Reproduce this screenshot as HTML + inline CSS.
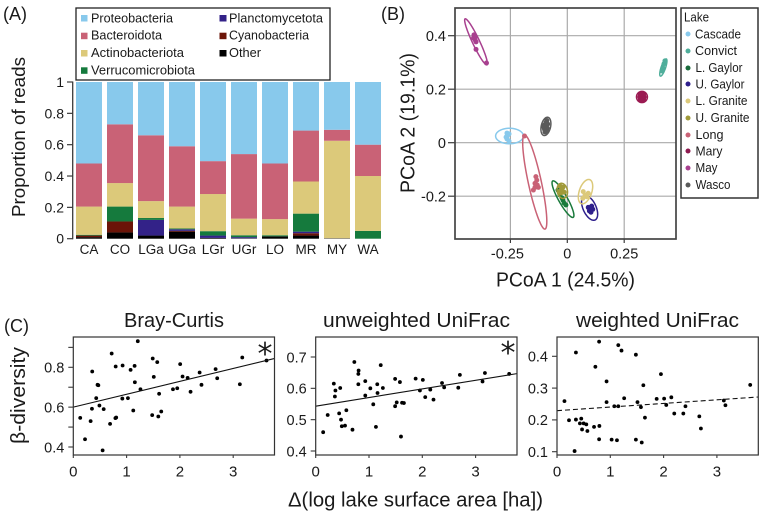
<!DOCTYPE html>
<html lang="en">
<head>
<meta charset="utf-8">
<title>Lake microbial community composition</title>
<style>
html,body{margin:0;padding:0;background:#fff;}
svg{display:block;font-family:"Liberation Sans",sans-serif;fill:#1a1a1a;}
</style>
</head>
<body>
<svg id="fig" width="761" height="515" viewBox="0 0 761 515" xmlns="http://www.w3.org/2000/svg">
  <text x="3" y="20" font-size="18">(A)</text>
  <text x="381" y="20" font-size="18">(B)</text>
  <text x="4" y="332" font-size="18">(C)</text>

  <text transform="translate(25,137) rotate(-90)" text-anchor="middle" font-size="18" textLength="160" lengthAdjust="spacingAndGlyphs">Proportion of reads</text>
  <g id="panelA"></g>

  <g>
    <rect x="76" y="8" width="254" height="72" fill="#fff" stroke="#222" stroke-width="1.3"/>
    <rect x="81" y="15" width="6.5" height="6.5" fill="#88c9ec"/>
    <text x="91" y="22.3" font-size="12.5" textLength="82" lengthAdjust="spacingAndGlyphs">Proteobacteria</text>
    <rect x="81" y="32.7" width="6.5" height="6.5" fill="#c96276"/>
    <text x="91" y="39.5" font-size="12.5" textLength="71" lengthAdjust="spacingAndGlyphs">Bacteroidota</text>
    <rect x="81" y="50" width="6.5" height="6.5" fill="#dcc97a"/>
    <text x="91" y="56.8" font-size="12.5" textLength="93" lengthAdjust="spacingAndGlyphs">Actinobacteriota</text>
    <rect x="81" y="67.3" width="6.5" height="6.5" fill="#157a3d"/>
    <text x="91" y="74.3" font-size="12.5" textLength="104" lengthAdjust="spacingAndGlyphs">Verrucomicrobiota</text>
    <rect x="219.5" y="15" width="7" height="6.5" fill="#332288"/>
    <text x="229" y="22.3" font-size="12.5" textLength="94" lengthAdjust="spacingAndGlyphs">Planctomycetota</text>
    <rect x="219.5" y="32.7" width="7" height="6.5" fill="#6b1408"/>
    <text x="229" y="39.5" font-size="12.5" textLength="80" lengthAdjust="spacingAndGlyphs">Cyanobacteria</text>
    <rect x="219.5" y="50" width="7" height="6.5" fill="#000"/>
    <text x="229" y="56.8" font-size="12.5" textLength="32" lengthAdjust="spacingAndGlyphs">Other</text>
  </g>

  <g id="panelB"></g>
  <text x="565.5" y="286.7" text-anchor="middle" font-size="20" textLength="139" lengthAdjust="spacingAndGlyphs">PCoA 1 (24.5%)</text>
  <text transform="translate(414.3,123) rotate(-90)" text-anchor="middle" font-size="20" textLength="140" lengthAdjust="spacingAndGlyphs">PCoA 2 (19.1%)</text>

  <g>
    <rect x="681" y="8" width="77" height="190" fill="#fff" stroke="#333" stroke-width="1.5"/>
    <text x="684" y="21.7" font-size="12.5" textLength="25" lengthAdjust="spacingAndGlyphs">Lake</text>
    <circle cx="688" cy="34" r="2.5" fill="#88c9ec"/>
    <text x="695" y="38.3" font-size="12.5" textLength="46" lengthAdjust="spacingAndGlyphs">Cascade</text>
    <circle cx="688" cy="51" r="2.5" fill="#4fae9b"/>
    <text x="695" y="55" font-size="12.5" textLength="42" lengthAdjust="spacingAndGlyphs">Convict</text>
    <circle cx="688" cy="68" r="2.5" fill="#1a6b3c"/>
    <text x="695.5" y="72" font-size="12.5" textLength="47" lengthAdjust="spacingAndGlyphs">L. Gaylor</text>
    <circle cx="688" cy="84" r="2.5" fill="#2e1f8c"/>
    <text x="695.5" y="88.5" font-size="12.5" textLength="49" lengthAdjust="spacingAndGlyphs">U. Gaylor</text>
    <circle cx="688" cy="101" r="2.5" fill="#dcc97a"/>
    <text x="695.5" y="105" font-size="12.5" textLength="52" lengthAdjust="spacingAndGlyphs">L. Granite</text>
    <circle cx="688" cy="118" r="2.5" fill="#a09a3a"/>
    <text x="695.5" y="122" font-size="12.5" textLength="54" lengthAdjust="spacingAndGlyphs">U. Granite</text>
    <circle cx="688" cy="135" r="2.5" fill="#c96276"/>
    <text x="695.5" y="139" font-size="12.5" textLength="28" lengthAdjust="spacingAndGlyphs">Long</text>
    <circle cx="688" cy="151" r="2.5" fill="#8e1a50"/>
    <text x="695.5" y="155.5" font-size="12.5" textLength="27" lengthAdjust="spacingAndGlyphs">Mary</text>
    <circle cx="688" cy="168" r="2.5" fill="#a8408f"/>
    <text x="695.5" y="172" font-size="12.5" textLength="22" lengthAdjust="spacingAndGlyphs">May</text>
    <circle cx="688" cy="185" r="2.5" fill="#5a5a5a"/>
    <text x="695.5" y="189" font-size="12.5" textLength="35" lengthAdjust="spacingAndGlyphs">Wasco</text>
  </g>

  <text x="174" y="327" text-anchor="middle" font-size="20" textLength="100" lengthAdjust="spacingAndGlyphs">Bray-Curtis</text>
  <text x="416.5" y="327" text-anchor="middle" font-size="20" textLength="187" lengthAdjust="spacingAndGlyphs">unweighted UniFrac</text>
  <text x="657.5" y="327" text-anchor="middle" font-size="20" textLength="163" lengthAdjust="spacingAndGlyphs">weighted UniFrac</text>
  <text transform="translate(25,395.5) rotate(-90)" text-anchor="middle" font-size="20" textLength="97" lengthAdjust="spacingAndGlyphs">β-diversity</text>
  <text x="415.5" y="506.5" text-anchor="middle" font-size="20" textLength="255" lengthAdjust="spacingAndGlyphs">Δ(log lake surface area [ha])</text>

  <g id="panelC1"></g>
  <g id="panelC2"></g>
  <g id="panelC3"></g>
  <text x="265" y="364" text-anchor="middle" font-size="30" style="font-family:'DejaVu Sans',sans-serif">*</text>
  <text x="508" y="363" text-anchor="middle" font-size="30" style="font-family:'DejaVu Sans',sans-serif">*</text>
</svg>

<script>
/* ---------- Panel A data ---------- */
const barCategories = ['CA','CO','LGa','UGa','LGr','UGr','LO','MR','MY','WA'];
const otherShare = [0.01,0.04,0.02,0.045,0.005,0.003,0.015,0.02,0.003,0];
const cyanobacteriaShare = [0.01,0.07,0,0.005,0,0,0,0.015,0,0];
const planctomycetotaShare = [0,0,0.10,0.01,0.015,0.007,0,0.01,0,0];
const verrucomicrobiotaShare = [0.005,0.095,0.012,0.005,0.028,0.012,0.007,0.115,0,0.05];
const actinobacteriotaShare = [0.18,0.15,0.108,0.14,0.237,0.106,0.103,0.205,0.622,0.35];
const bacteroidotaShare = [0.275,0.375,0.42,0.385,0.21,0.412,0.355,0.325,0.07,0.20];
const proteobacteriaShare = [0.52,0.27,0.34,0.41,0.505,0.46,0.52,0.31,0.305,0.40];
const barTicks = [0,0.2,0.4,0.6,0.8,1];
const barTickLabels = ['0','0.2','0.4','0.6','0.8','1'];

/* ---------- Panel B data (PCoA axis units) ---------- */
const pcoaXTicks = [-0.25,0,0.25];
const pcoaXTickLabels = ['-0.25','0','0.25'];
const pcoaYTicks = [-0.2,0,0.2,0.4];
const pcoaYTickLabels = ['-0.2','0','0.2','0.4'];
const lakeNames = ['Cascade','Convict','L. Gaylor','U. Gaylor','L. Granite','U. Granite','Long','Mary','May','Wasco'];
const lakePointsX = [
  [-0.265,-0.265,-0.265,-0.261,-0.269,-0.256,-0.256],
  [0.416,0.420,0.425,0.429],
  [-0.041,-0.032,-0.019,-0.014,-0.006,-0.023],
  [0.092,0.107,0.112,0.097,0.104,0.100],
  [0.078,0.068,0.085,0.092,0.070],
  [-0.032,-0.023,-0.014,-0.028,-0.019,-0.032],
  [-0.188,-0.138,-0.134,-0.142,-0.132,-0.142,-0.149,-0.127],
  [0.318,0.338,0.328,0.321,0.335,0.328,0.321,0.335,0.328],
  [-0.405,-0.405,-0.41,-0.401,-0.401,-0.355,-0.412],
  [-0.090,-0.086,-0.094,-0.088,-0.102,-0.100,-0.098,-0.094,-0.091,-0.103]
];
const lakePointsY = [
  [0.036,0.025,0.014,0.029,0.021,0.033,0.006],
  [0.268,0.280,0.295,0.306],
  [-0.177,-0.196,-0.215,-0.226,-0.233,-0.207],
  [-0.242,-0.237,-0.249,-0.255,-0.260,-0.244],
  [-0.196,-0.208,-0.202,-0.189,-0.183],
  [-0.162,-0.173,-0.185,-0.188,-0.166,-0.181],
  [0.025,-0.127,-0.140,-0.152,-0.158,-0.167,-0.177,-0.167],
  [0.171,0.171,0.171,0.180,0.180,0.183,0.162,0.162,0.159],
  [0.395,0.384,0.403,0.377,0.349,0.298,0.392],
  [0.083,0.070,0.061,0.055,0.065,0.050,0.040,0.075,0.045,0.058]
];
const ellipseCenterX = [-0.254,0.422,-0.019,0.098,0.080,-0.022,-0.143,0.328,-0.401,-0.094];
const ellipseCenterY = [0.025,0.281,-0.211,-0.244,-0.183,-0.180,-0.147,0.171,0.377,0.061];
const ellipseMajorX = [0.061,0.013,0.045,0.024,0.018,-0.007,0.045,0.024,0.048,0.009];
const ellipseMajorY = [0,0.032,-0.068,-0.045,0.045,0.028,-0.176,0,-0.086,0.034];
const ellipseMinorX = [0,0.009,0.017,0.026,0.026,0.022,0.028,0,0.014,0.02];
const ellipseMinorY = [0.029,-0.003,0.008,0.010,-0.007,0.004,0.005,0.021,0.006,-0.004];

/* ---------- Panel C data ---------- */
const brayX = [0.13,0.22,0.325,0.355,0.35,0.43,0.455,0.47,0.49,0.55,0.57,0.69,0.72,0.79,0.805,0.795,0.925,0.92,1.025,1.075,1.125,1.15,1.155,1.21,1.26,1.48,1.49,1.51,1.575,1.595,1.61,1.65,1.87,1.95,2.005,2.05,2.145,2.2,2.37,2.405,2.67,2.7,3.125,3.17,3.625];
const brayY = [0.546,0.439,0.530,0.779,0.592,0.645,0.712,0.710,0.608,0.383,0.590,0.516,0.869,0.545,0.548,0.804,0.809,0.643,0.645,0.787,0.583,0.807,0.725,0.931,0.690,0.560,0.844,0.752,0.826,0.553,0.667,0.578,0.690,0.695,0.816,0.754,0.747,0.677,0.774,0.712,0.791,0.745,0.715,0.849,0.834];
const brayFitX = [0,3.77];
const brayFitY = [0.60,0.844];
const brayTicks = [0.4,0.5,0.6,0.7,0.8,0.9];
const brayTickLabels = ['0.4','','0.6','','0.8',''];

const unweightedX = [0.14,0.225,0.34,0.37,0.36,0.44,0.46,0.475,0.49,0.55,0.575,0.69,0.725,0.80,0.80,0.805,0.93,0.93,1.025,1.08,1.13,1.155,1.16,1.22,1.26,1.49,1.49,1.52,1.58,1.60,1.62,1.655,1.875,1.955,2.01,2.055,2.15,2.21,2.37,2.41,2.675,2.705,3.13,3.175,3.63];
const unweightedY = [0.460,0.515,0.615,0.593,0.574,0.520,0.601,0.500,0.479,0.481,0.530,0.468,0.684,0.646,0.613,0.657,0.623,0.577,0.600,0.549,0.477,0.613,0.585,0.674,0.601,0.543,0.630,0.555,0.620,0.446,0.554,0.553,0.631,0.593,0.627,0.572,0.596,0.564,0.617,0.603,0.602,0.643,0.622,0.649,0.646];
const unweightedFitX = [0,3.775];
const unweightedFitY = [0.543,0.647];
const unweightedTicks = [0.4,0.5,0.6,0.7];
const unweightedTickLabels = ['0.4','0.5','0.6','0.7'];

const weightedX = [0.14,0.225,0.33,0.355,0.355,0.43,0.455,0.47,0.50,0.55,0.57,0.695,0.72,0.79,0.795,0.79,0.93,0.93,1.025,1.075,1.125,1.15,1.15,1.21,1.26,1.48,1.48,1.51,1.575,1.59,1.62,1.65,1.87,1.95,2.01,2.05,2.145,2.20,2.37,2.41,2.67,2.70,3.13,3.16,3.625];
const weightedY = [0.259,0.199,0.102,0.412,0.201,0.189,0.204,0.170,0.189,0.186,0.165,0.178,0.367,0.446,0.181,0.139,0.321,0.256,0.138,0.243,0.136,0.243,0.435,0.418,0.268,0.405,0.138,0.256,0.240,0.129,0.309,0.207,0.266,0.344,0.267,0.247,0.271,0.220,0.220,0.243,0.211,0.173,0.261,0.246,0.310];
const weightedFitX = [0,3.775];
const weightedFitY = [0.229,0.272];
const weightedTicks = [0.1,0.2,0.3,0.4];
const weightedTickLabels = ['0.1','0.2','0.3','0.4'];

const distanceTicks = [0,1,2,3];
const distanceTickLabels = ['0','1','2','3'];

/* ---------- helpers ---------- */
const NS = 'http://www.w3.org/2000/svg';
function svgEl(tag, attrs, parent, text) {
  const el = document.createElementNS(NS, tag);
  for (const k in attrs) el.setAttribute(k, attrs[k]);
  if (text !== undefined) el.textContent = text;
  parent.appendChild(el);
  return el;
}
function linear(d0, d1, r0, r1) {
  return v => r0 + (v - d0) * (r1 - r0) / (d1 - d0);
}
const AXIS = '#3a3a3a';

/* ---------- Panel A ---------- */
(function () {
  const g = document.getElementById('panelA');
  const y = linear(0, 1, 238.7, 82);
  const barX = i => 76 + i * 31;
  const stack = [
    [otherShare, '#000000'],
    [cyanobacteriaShare, '#6b1408'],
    [planctomycetotaShare, '#332288'],
    [verrucomicrobiotaShare, '#157a3d'],
    [actinobacteriotaShare, '#dcc97a'],
    [bacteroidotaShare, '#c96276'],
    [proteobacteriaShare, '#88c9ec']
  ];
  barCategories.forEach((cat, i) => {
    let base = 0;
    stack.forEach(([series, color]) => {
      const top = base + series[i];
      const bar = svgEl('rect', {x: barX(i), y: y(top), width: 26, height: Math.max(0, y(base) - y(top)), fill: color}, g);
      
      
      base = top;
    });
    const label = svgEl('text', {x: barX(i) + 13, y: 254, 'text-anchor': 'middle', 'font-size': 13.5}, g, cat);
    
    
  });
  const axis = svgEl('line', {x1: 72.7, x2: 72.7, y1: y(1) - 0.5, y2: y(0) + 0.5, stroke: AXIS, 'stroke-width': 1.3}, g);
  
  
  barTicks.forEach((t, i) => {
    const tick = svgEl('line', {x1: 67, x2: 73, y1: y(t), y2: y(t), stroke: AXIS, 'stroke-width': 1.2}, g);
    
    
    const label = svgEl('text', {x: 64, y: y(t) + 5, 'text-anchor': 'end', 'font-size': 14}, g, barTickLabels[i]);
    
    
  });
})();

/* ---------- Panel B ---------- */
(function () {
  const g = document.getElementById('panelB');
  const x = linear(0, 0.25, 567.3, 624.2);
  const y = linear(0, 0.2, 142.7, 89.2);
  const colors = ['#88c9ec','#4fae9b','#1a7a3c','#2e1f8c','#dcc97a','#a09a3a','#c96276','#9b1b52','#a8408f','#5a5a5a'];
  const L = 455, R = 676, T = 8, B = 239;
  const bg = svgEl('rect', {x: L, y: T, width: R - L, height: B - T, fill: '#fff'}, g);
  
  
  pcoaXTicks.forEach((t, i) => {
    const grid = svgEl('line', {x1: x(t), x2: x(t), y1: T, y2: B, stroke: '#aaaaaa', 'stroke-width': 1.2}, g);
    
    
    const tick = svgEl('line', {x1: x(t), x2: x(t), y1: B, y2: B + 4, stroke: AXIS, 'stroke-width': 1.2}, g);
    
    
    const label = svgEl('text', {x: x(t) - (t < 0 ? 3 : 0), y: 258.3, 'text-anchor': 'middle', 'font-size': 14.5}, g, pcoaXTickLabels[i]);
    
    
  });
  pcoaYTicks.forEach((t, i) => {
    const grid = svgEl('line', {x1: L, x2: R, y1: y(t), y2: y(t), stroke: '#aaaaaa', 'stroke-width': 1.2}, g);
    
    
    const tick = svgEl('line', {x1: L - 7, x2: L, y1: y(t), y2: y(t), stroke: AXIS, 'stroke-width': 1.2}, g);
    
    
    const label = svgEl('text', {x: 446, y: y(t) + 5.5, 'text-anchor': 'end', 'font-size': 14.5}, g, pcoaYTickLabels[i]);
    
    
  });
  lakeNames.forEach((lake, i) => {
    let d = '';
    for (let k = 0; k <= 72; k++) {
      const a = k / 72 * 2 * Math.PI;
      const dx = ellipseCenterX[i] + Math.cos(a) * ellipseMajorX[i] + Math.sin(a) * ellipseMinorX[i];
      const dy = ellipseCenterY[i] + Math.cos(a) * ellipseMajorY[i] + Math.sin(a) * ellipseMinorY[i];
      d += (k ? 'L' : 'M') + x(dx).toFixed(2) + ' ' + y(dy).toFixed(2);
    }
    const ell = svgEl('path', {d: d + 'Z', fill: 'none', stroke: colors[i], 'stroke-width': 1.5}, g);
    
    
    lakePointsX[i].forEach((px, j) => {
      const pt = svgEl('circle', {cx: x(px), cy: y(lakePointsY[i][j]), r: 2.5, fill: colors[i]}, g);
      
      
    });
  });
  const frame = svgEl('rect', {x: L, y: T, width: R - L, height: B - T, fill: 'none', stroke: '#444', 'stroke-width': 1.7}, g);
  
  
})();

/* ---------- Panel C ---------- */
function drawScatter(id, xs, ys, fitX, fitY, yTicks, yLabels, box, dashed) {
  const g = document.getElementById(id);
  const x = linear(0, 1, box.left, box.left + 53.3);
  const y = linear(box.v0, box.v1, box.p0, box.p1);
  xs.forEach((vx, i) => {
    const dot = svgEl('circle', {cx: x(vx), cy: y(ys[i]), r: 1.9, fill: '#000'}, g);
    
    
  });
  const fit = svgEl('line', {x1: x(fitX[0]), y1: y(fitY[0]), x2: x(fitX[1]), y2: y(fitY[1]), stroke: '#111', 'stroke-width': 1.1}, g);
  if (dashed) fit.setAttribute('stroke-dasharray', '5 3');
  
  
  const frame = svgEl('rect', {x: box.left, y: 337, width: box.right - box.left, height: 118, fill: 'none', stroke: '#333', 'stroke-width': 1.2}, g);
  
  
  distanceTicks.forEach((t, i) => {
    const tick = svgEl('line', {x1: x(t), x2: x(t), y1: 455, y2: 458, stroke: AXIS, 'stroke-width': 1.1}, g);
    
    
    const label = svgEl('text', {x: x(t), y: 476.7, 'text-anchor': 'middle', 'font-size': 15}, g, distanceTickLabels[i]);
    
    
  });
  yTicks.forEach((t, i) => {
    const tick = svgEl('line', {x1: box.left - 5, x2: box.left, y1: y(t), y2: y(t), stroke: AXIS, 'stroke-width': 1.1}, g);
    
    
    if (yLabels[i]) {
      const label = svgEl('text', {x: box.left - 9, y: y(t) + 5.3, 'text-anchor': 'end', 'font-size': 14.5}, g, yLabels[i]);
      
      
    }
  });
}
drawScatter('panelC1', brayX, brayY, brayFitX, brayFitY, brayTicks, brayTickLabels,
  {left: 73.3, right: 274.5, v0: 0.4, v1: 0.8, p0: 447, p1: 367.3}, false);
drawScatter('panelC2', unweightedX, unweightedY, unweightedFitX, unweightedFitY, unweightedTicks, unweightedTickLabels,
  {left: 315.7, right: 517, v0: 0.4, v1: 0.7, p0: 451, p1: 357}, false);
drawScatter('panelC3', weightedX, weightedY, weightedFitX, weightedFitY, weightedTicks, weightedTickLabels,
  {left: 557, right: 758.3, v0: 0.1, v1: 0.4, p0: 451.7, p1: 356.3}, true);
</script>
</body>
</html>
